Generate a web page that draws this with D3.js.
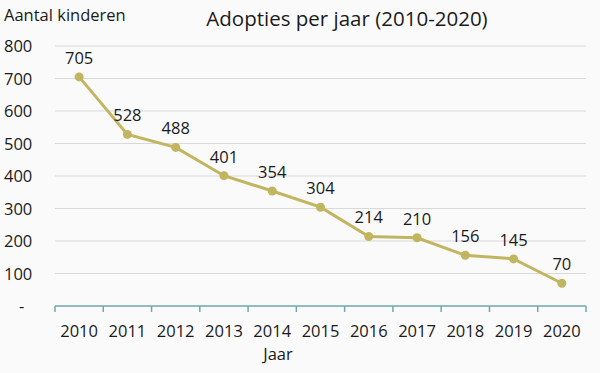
<!DOCTYPE html>
<html>
<head>
<meta charset="utf-8">
<script src="https://cdn.jsdelivr.net/npm/d3@7"></script>
<style>
  body { margin: 0; background: #fafafa; }
  text { font-family: "Open Sans", sans-serif; fill: #1a1a1a; }
</style>
</head>
<body>
<div id="chart"></div>
<script>
var years = ["2010","2011","2012","2013","2014","2015","2016","2017","2018","2019","2020"];
var adopties = [705, 528, 488, 401, 354, 304, 214, 210, 156, 145, 70];
var yTicks = [0, 100, 200, 300, 400, 500, 600, 700, 800];

var width = 600, height = 373;
var margin = {top: 46, right: 14, bottom: 67, left: 55};

var svg = d3.select('#chart').append('svg')
    .attr('width', width)
    .attr('height', height)
    .style('background', '#fafafa');

var xScale = d3.scaleBand()
    .domain(years)
    .range([margin.left, width - margin.right]);

var yScale = d3.scaleLinear()
    .domain([0, 800])
    .range([height - margin.bottom, margin.top]);

// gridlines
svg.append('g')
  .selectAll('line')
  .data(yTicks.filter(function(d) { return d > 0; }))
  .enter()
  .append('line')
  .attr('x1', margin.left)
  .attr('x2', width - margin.right)
  .attr('y1', function(d) { return yScale(d); })
  .attr('y2', function(d) { return yScale(d); })
  .attr('stroke', '#d9d9d9')
  .attr('stroke-width', 1);

// y labels
svg.append('g')
  .selectAll('text')
  .data(yTicks)
  .enter()
  .append('text')
  .attr('x', function(d) { return d === 0 ? 19 : 4; })
  .attr('y', function(d) { return yScale(d) + 6; })
  .attr('font-size', 16.5)
  .text(function(d) { return d === 0 ? '-' : d; });

// x axis
var axisY = yScale(0);
svg.append('line')
  .attr('x1', margin.left)
  .attr('x2', width - margin.right)
  .attr('y1', axisY)
  .attr('y2', axisY)
  .attr('stroke', '#6fa8ad')
  .attr('stroke-width', 1.5);

var edges = years.map(function(d) { return xScale(d); });
edges.push(width - margin.right);
svg.append('g')
  .selectAll('line')
  .data(edges)
  .enter()
  .append('line')
  .attr('x1', function(d) { return d; })
  .attr('x2', function(d) { return d; })
  .attr('y1', axisY)
  .attr('y2', axisY + 6)
  .attr('stroke', '#6fa8ad')
  .attr('stroke-width', 1.5);

svg.append('g')
  .selectAll('text')
  .data(years)
  .enter()
  .append('text')
  .attr('x', function(d) { return xScale(d) + xScale.bandwidth() / 2; })
  .attr('y', axisY + 31)
  .attr('text-anchor', 'middle')
  .attr('font-size', 16.5)
  .text(function(d) { return d; });

// line
var cx = function(d, i) { return xScale(years[i]) + xScale.bandwidth() / 2; };
var line = d3.line()
    .x(cx)
    .y(function(d) { return yScale(d); });

svg.append('path')
  .datum(adopties)
  .attr('d', line)
  .attr('fill', 'none')
  .attr('stroke', '#c2b560')
  .attr('stroke-width', 3);

svg.append('g')
  .selectAll('circle')
  .data(adopties)
  .enter()
  .append('circle')
  .attr('cx', cx)
  .attr('cy', function(d) { return yScale(d); })
  .attr('r', 4.5)
  .attr('fill', '#c2b560');

svg.append('g')
  .selectAll('text')
  .data(adopties)
  .enter()
  .append('text')
  .attr('x', cx)
  .attr('y', function(d) { return yScale(d) - 13; })
  .attr('text-anchor', 'middle')
  .attr('font-size', 16.5)
  .text(function(d) { return d; });

// titles
svg.append('text')
  .attr('x', 347)
  .attr('y', 26)
  .attr('text-anchor', 'middle')
  .attr('font-size', 20.5)
  .text('Adopties per jaar (2010-2020)');

svg.append('text')
  .attr('x', 4)
  .attr('y', 21)
  .attr('font-size', 16.5)
  .text('Aantal kinderen');

svg.append('text')
  .attr('x', 278)
  .attr('y', 360)
  .attr('text-anchor', 'middle')
  .attr('font-size', 16.5)
  .text('Jaar');
</script>
</body>
</html>
